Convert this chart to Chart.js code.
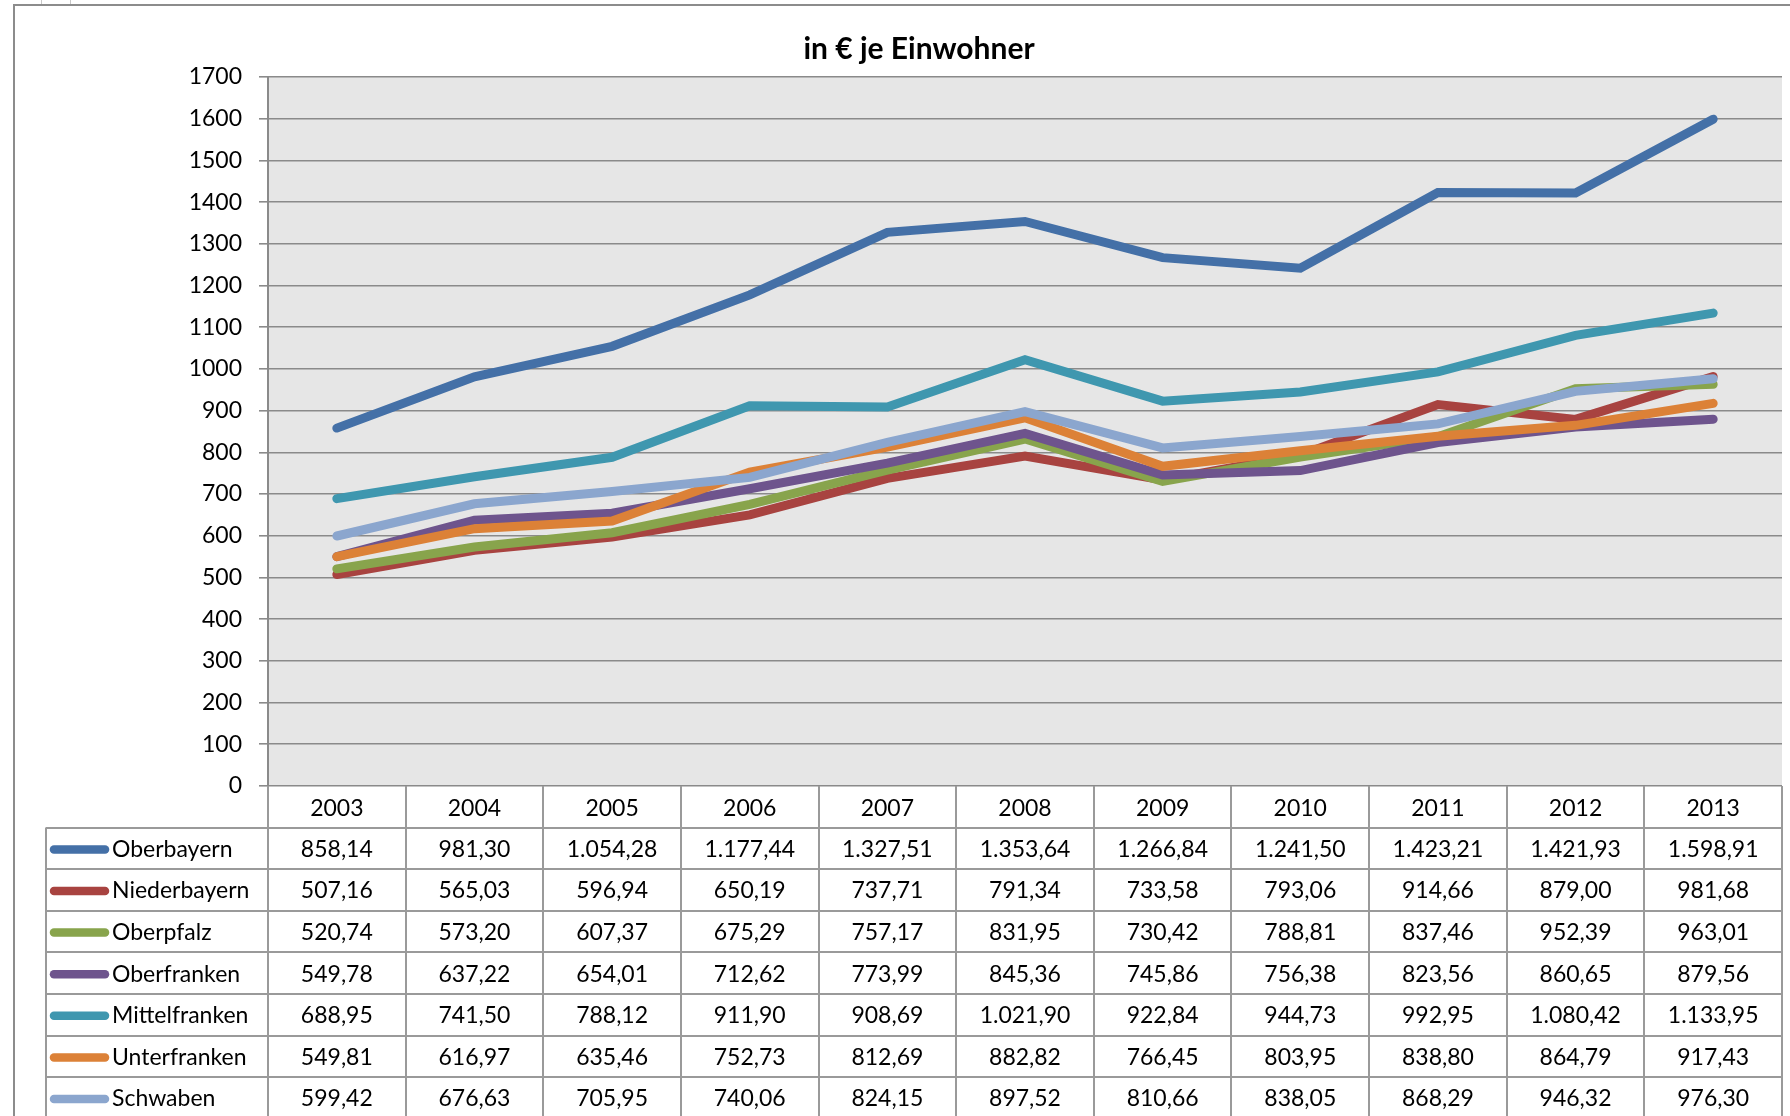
<!DOCTYPE html>
<html>
<head>
<meta charset="utf-8">
<script src="https://cdn.jsdelivr.net/npm/chart.js@4/dist/chart.umd.min.js"></script>
<style>
  html, body { margin: 0; padding: 0; background: #ffffff; }
  #wrap { position: relative; width: 1790px; height: 1116px; }
  canvas { display: block; }
</style>
</head>
<body>
<div id="wrap"><canvas id="c" width="1790" height="1116"></canvas></div>
<script>
const years = ['2003','2004','2005','2006','2007','2008','2009','2010','2011','2012','2013'];
const seriesNames = ['Oberbayern','Niederbayern','Oberpfalz','Oberfranken','Mittelfranken','Unterfranken','Schwaben'];
const oberbayern    = [858.14, 981.30, 1054.28, 1177.44, 1327.51, 1353.64, 1266.84, 1241.50, 1423.21, 1421.93, 1598.91];
const niederbayern  = [507.16, 565.03, 596.94, 650.19, 737.71, 791.34, 733.58, 793.06, 914.66, 879.00, 981.68];
const oberpfalz     = [520.74, 573.20, 607.37, 675.29, 757.17, 831.95, 730.42, 788.81, 837.46, 952.39, 963.01];
const oberfranken   = [549.78, 637.22, 654.01, 712.62, 773.99, 845.36, 745.86, 756.38, 823.56, 860.65, 879.56];
const mittelfranken = [688.95, 741.50, 788.12, 911.90, 908.69, 1021.90, 922.84, 944.73, 992.95, 1080.42, 1133.95];
const unterfranken  = [549.81, 616.97, 635.46, 752.73, 812.69, 882.82, 766.45, 803.95, 838.80, 864.79, 917.43];
const schwaben      = [599.42, 676.63, 705.95, 740.06, 824.15, 897.52, 810.66, 838.05, 868.29, 946.32, 976.30];
const seriesValues = [oberbayern, niederbayern, oberpfalz, oberfranken, mittelfranken, unterfranken, schwaben];
const seriesColors = ['#4470A7','#A84340','#88A44C','#6E548D','#3F97AF','#DC8137','#8BA6CE'];
const yTicks = { min: 0, max: 1700, step: 100 };
const titleText = 'in € je Einwohner';

const FONT = 'Lato, "Liberation Sans", sans-serif';
const GRID = '#8a8a8a';
const TABLE_LINE = '#9a9a9a';

function fmtDE(v) {
  const fixed = v.toFixed(2);
  let [intPart, dec] = fixed.split('.');
  intPart = intPart.replace(/\B(?=(\d{3})+(?!\d))/g, '.');
  return intPart + ',' + dec;
}

const plotBg = {
  id: 'plotBg',
  beforeDraw(chart) {
    const { ctx, chartArea: a } = chart;
    ctx.save();
    ctx.fillStyle = '#E6E6E6';
    ctx.fillRect(a.left, a.top, a.right - a.left, a.bottom - a.top);
    ctx.strokeStyle = '#8c8c8c';
    ctx.lineWidth = 2;
    ctx.beginPath();
    ctx.moveTo(14, 1116);
    ctx.lineTo(14, 5);
    ctx.lineTo(1790, 5);
    ctx.stroke();
    ctx.strokeStyle = '#c8c8c8';
    ctx.lineWidth = 1;
    ctx.beginPath();
    ctx.moveTo(41.5, 0); ctx.lineTo(41.5, 4);
    ctx.moveTo(70.5, 0); ctx.lineTo(70.5, 4);
    ctx.stroke();
    // chart title
    ctx.fillStyle = '#000000';
    ctx.font = 'bold 30px ' + FONT;
    ctx.textAlign = 'center';
    ctx.textBaseline = 'middle';
    ctx.fillText(titleText, 919, 49);
    ctx.restore();
  }
};

const dataTable = {
  id: 'dataTable',
  afterDraw(chart) {
    const { ctx, chartArea: a } = chart;
    const xs = chart.scales.x;
    const n = years.length;
    const colW = (xs.right - xs.left) / n;
    const headerH = 41.6;
    const rowH = 41.6;
    const tableLeft = 46;
    const top0 = a.bottom;
    const rowsTop = top0 + headerH;
    const bottom = chart.height;
    ctx.save();
    ctx.strokeStyle = TABLE_LINE;
    ctx.lineWidth = 2;
    ctx.beginPath();
    for (let k = 0; k <= n; k++) {
      const x = Math.round(xs.left + k * colW);
      ctx.moveTo(x, top0);
      ctx.lineTo(x, bottom);
    }
    ctx.moveTo(tableLeft, rowsTop);
    ctx.lineTo(tableLeft, bottom);
    for (let r = 0; r <= seriesNames.length; r++) {
      const y = Math.round(rowsTop + r * rowH);
      if (y > bottom) break;
      ctx.moveTo(tableLeft, y);
      ctx.lineTo(xs.right, y);
    }
    ctx.stroke();

    ctx.font = '23px ' + FONT;
    ctx.fillStyle = '#000000';
    ctx.textBaseline = 'middle';
    seriesNames.forEach((name, r) => {
      const cy = rowsTop + r * rowH + rowH / 2 + 1;
      ctx.strokeStyle = seriesColors[r];
      ctx.lineWidth = 8.5;
      ctx.lineCap = 'round';
      ctx.beginPath();
      ctx.moveTo(54, cy);
      ctx.lineTo(105, cy);
      ctx.stroke();
      ctx.textAlign = 'left';
      ctx.fillText(name, 112, cy);
      ctx.textAlign = 'center';
      seriesValues[r].forEach((v, i) => {
        ctx.fillText(fmtDE(v), xs.getPixelForValue(i), cy);
      });
    });
    ctx.restore();
  }
};

const datasets = seriesNames.map((name, i) => ({
  label: name,
  data: seriesValues[i],
  borderColor: seriesColors[i],
  backgroundColor: seriesColors[i],
  borderWidth: 9,
  borderJoinStyle: 'miter',
  borderCapStyle: 'round',
  pointRadius: 0,
  pointHoverRadius: 0,
  tension: 0,
  fill: false,
  order: seriesNames.length - 1 - i
}));

new Chart(document.getElementById('c'), {
  type: 'line',
  data: { labels: years, datasets },
  options: {
    responsive: false,
    animation: false,
    events: [],
    layout: { padding: { left: 0, right: 8, top: 77, bottom: 0 } },
    plugins: {
      legend: { display: false },
      tooltip: { enabled: false },
      title: { display: false }
    },
    scales: {
      x: {
        offset: true,
        grid: { display: false, drawTicks: false },
        border: { display: false },
        ticks: {
          color: '#000000',
          font: { family: FONT, size: 23 },
          padding: 9,
          maxRotation: 0,
          autoSkip: false
        },
        afterFit(scale) { scale.height = 330; }
      },
      y: {
        min: yTicks.min,
        max: yTicks.max,
        ticks: {
          stepSize: yTicks.step,
          color: '#000000',
          font: { family: FONT, size: 23 },
          padding: 17,
          callback: (v) => String(v)
        },
        grid: { color: GRID, lineWidth: 1.6, tickLength: 9, drawTicks: true },
        border: { display: true, color: GRID, width: 2 },
        afterFit(scale) { scale.width = 268; }
      }
    }
  },
  plugins: [plotBg, dataTable]
});
</script>
</body>
</html>
